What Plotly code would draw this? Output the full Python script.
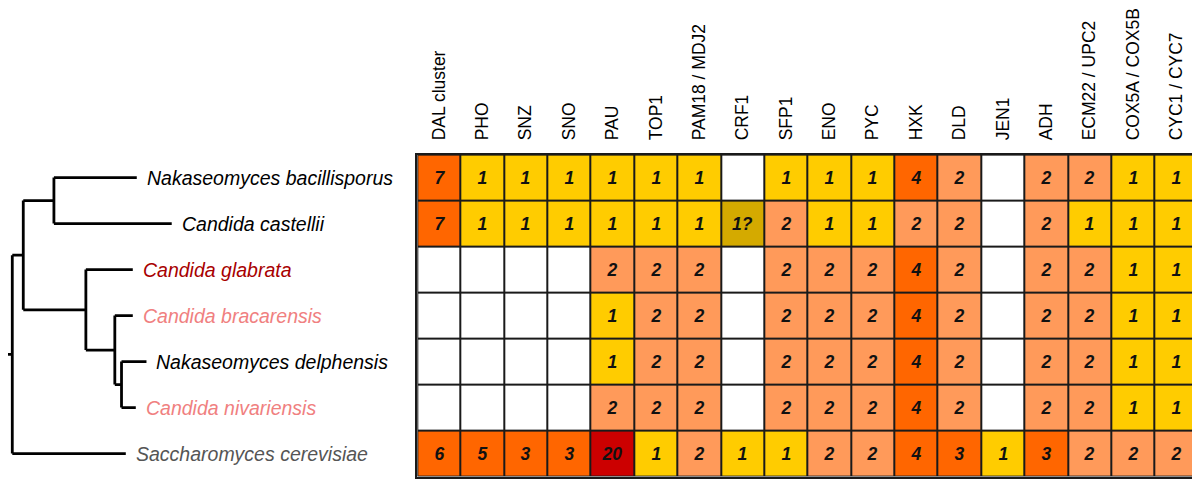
import plotly.graph_objects as go

genes = ["DAL cluster", "PHO", "SNZ", "SNO", "PAU", "TOP1", "PAM18 / MDJ2", "CRF1",
         "SFP1", "ENO", "PYC", "HXK", "DLD", "JEN1", "ADH", "ECM22 / UPC2",
         "COX5A / COX5B", "CYC1 / CYC7"]

species = ["Nakaseomyces bacillisporus", "Candida castellii", "Candida glabrata",
           "Candida bracarensis", "Nakaseomyces delphensis", "Candida nivariensis",
           "Saccharomyces cerevisiae"]
species_colors = ["#000000", "#000000", "#a80000", "#f08080", "#000000", "#f08080", "#555555"]

row_bacillisporus = ["7", "1", "1", "1", "1", "1", "1", "", "1", "1", "1", "4", "2", "", "2", "2", "1", "1"]
row_castellii = ["7", "1", "1", "1", "1", "1", "1", "1?", "2", "1", "1", "2", "2", "", "2", "1", "1", "1"]
row_glabrata = ["", "", "", "", "2", "2", "2", "", "2", "2", "2", "4", "2", "", "2", "2", "1", "1"]
row_bracarensis = ["", "", "", "", "1", "2", "2", "", "2", "2", "2", "4", "2", "", "2", "2", "1", "1"]
row_delphensis = ["", "", "", "", "1", "2", "2", "", "2", "2", "2", "4", "2", "", "2", "2", "1", "1"]
row_nivariensis = ["", "", "", "", "2", "2", "2", "", "2", "2", "2", "4", "2", "", "2", "2", "1", "1"]
row_cerevisiae = ["6", "5", "3", "3", "20", "1", "2", "1", "1", "2", "2", "4", "3", "1", "3", "2", "2", "2"]

# Tree: leaf tip depths (same order as species) and internal node depths
leaf_depth = [137, 172, 133, 133, 146.7, 136, 126]
node_depth = {"root": 12.3, "A": 23.3, "B": 54, "C": 86, "D": 115, "E": 121.7}
tree_children = {"root": ["A", 6], "A": ["B", "C"], "B": [0, 1], "C": [2, "D"],
                 "D": [3, "E"], "E": [4, 5]}
root_stub_start = 0

rows = [row_bacillisporus, row_castellii, row_glabrata, row_bracarensis,
        row_delphensis, row_nivariensis, row_cerevisiae]

class_colors = ["#ffffff", "#ffcc00", "#ff9a5a", "#ff6600", "#cc0000", "#d4aa00"]


def value_class(v):
    if v == "":
        return 0
    if v == "1?":
        return 5
    n = int(v)
    if n == 1:
        return 1
    if n == 2:
        return 2
    if n >= 10:
        return 4
    return 3


z = [[value_class(v) for v in r] for r in rows]
ncls = len(class_colors)
colorscale = []
for k, c in enumerate(class_colors):
    colorscale.append([k / ncls, c])
    colorscale.append([(k + 1) / ncls, c])

# page offset (body margin) compensation
OFF = 8
W, H = 1200 - OFF, 480 - OFF
grid_left = (418 - OFF) / W
grid_top = 1 - (149 - OFF) / H
grid_bottom = 1 - (476.5 - OFF) / H

fig = go.Figure()
fig.add_trace(go.Heatmap(
    z=z, x=genes, y=list(range(len(species))), text=rows,
    texttemplate="%{text}",
    textfont=dict(family="Liberation Sans, Arial", size=17.5, color="#111111",
                  weight="bold", style="italic"),
    colorscale=colorscale, zmin=-0.5, zmax=ncls - 0.5, showscale=False,
    xgap=2, ygap=2, hoverinfo="skip",
))


def node_y(n):
    if isinstance(n, int):
        return float(n)
    a, b = tree_children[n]
    return (node_y(a) + node_y(b)) / 2


def node_x(n):
    if isinstance(n, int):
        return leaf_depth[n]
    return node_depth[n]


xs, ys = [], []
for n, (a, b) in tree_children.items():
    xn = node_x(n)
    xs += [xn, xn, None]
    ys += [node_y(a), node_y(b), None]
    for ch in (a, b):
        xs += [xn, node_x(ch), None]
        ys += [node_y(ch), node_y(ch), None]
xs += [root_stub_start, node_depth["root"], None]
ys += [node_y("root"), node_y("root"), None]

fig.add_trace(go.Scatter(x=xs, y=ys, mode="lines", xaxis="x2", yaxis="y",
                         line=dict(color="#000000", width=2.8), hoverinfo="skip",
                         showlegend=False))

for i, sp in enumerate(species):
    fig.add_annotation(x=leaf_depth[i], y=i, xref="x2", yref="y", text=sp,
                       showarrow=False, xanchor="left", xshift=8,
                       font=dict(family="Liberation Sans, Arial", size=19.5,
                                 color=species_colors[i], style="italic"))

# dark backing behind the grid cells (shows through cell gaps as borders)
fig.add_shape(type="rect", xref="x domain", yref="y domain", x0=0, x1=1, y0=0, y1=1,
              fillcolor="#1a1a1a", line=dict(width=0), layer="below")

fig.update_layout(
    width=W, height=H, margin=dict(l=0, r=0, t=0, b=0),
    paper_bgcolor="white", plot_bgcolor="white", showlegend=False,
    font=dict(family="Liberation Sans, Arial", color="#000000"),
    xaxis=dict(domain=[grid_left, 1.0], side="top", tickangle=-90,
               tickfont=dict(size=17.5, color="#000000"), showgrid=False,
               zeroline=False, ticks="", ticklabelstandoff=9,
               showline=True, linecolor="#1a1a1a", linewidth=1.5, mirror=True,
               anchor="y"),
    yaxis=dict(domain=[grid_bottom, grid_top], range=[6.5, -0.5], showticklabels=False,
               showgrid=False, zeroline=False, ticks="",
               showline=True, linecolor="#1a1a1a", linewidth=1.5, mirror=True),
    xaxis2=dict(domain=[0, grid_left], range=[OFF, 418], visible=False, anchor="y",
                fixedrange=True),
)

fig.write_html("out.html")
